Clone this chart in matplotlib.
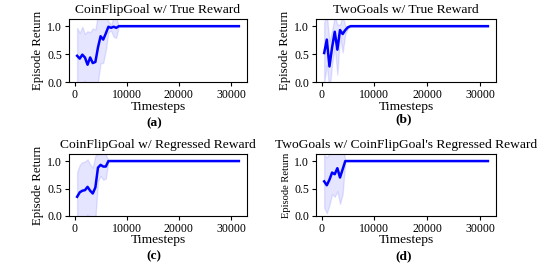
import numpy as np
import matplotlib
matplotlib.use("Agg")
import matplotlib.pyplot as plt

plt.rcParams['font.family'] = ['Liberation Serif', 'DejaVu Serif']
plt.rcParams['mathtext.fontset'] = 'stix'

# evaluation points (timesteps)
timesteps = np.arange(500, 31501, 500)
n = len(timesteps)

# mean return; flat at 1.0 after convergence
mean_a = [0.47, 0.42, 0.49, 0.44, 0.31, 0.44, 0.34, 0.36, 0.62, 0.82, 0.76, 0.87, 0.99, 0.97, 0.99, 0.97]
std_a = [0.50, 0.46, 0.50, 0.42, 0.60, 0.45, 0.62, 0.58, 0.60, 0.48, 0.42, 0.30, 0.10, 0.05, 0.18, 0.18]

mean_b = [0.52, 0.76, 0.28, 0.62, 0.90, 0.58, 0.93, 0.86, 0.93, 0.98]
std_b = [0.55, 0.45, 0.45, 0.30, 0.28, 0.45, 0.10, 0.33, 0.07, 0.02]

mean_c = [0.35, 0.43, 0.46, 0.47, 0.53, 0.46, 0.41, 0.52, 0.88, 0.93, 0.90, 0.90]
std_c = [0.45, 0.50, 0.52, 0.52, 0.50, 0.48, 0.47, 0.58, 0.25, 0.20, 0.24, 0.22]

mean_d = [0.63, 0.56, 0.66, 0.79, 0.76, 0.87, 0.70, 0.85]
std_d = [0.48, 0.51, 0.46, 0.39, 0.41, 0.42, 0.48, 0.45]

titles = ["CoinFlipGoal w/ True Reward", "TwoGoals w/ True Reward",
          "CoinFlipGoal w/ Regressed Reward", "TwoGoals w/ CoinFlipGoal's Regressed Reward"]
letters = ["(a)", "(b)", "(c)", "(d)"]


def pad(vals, fill):
    return np.array(list(vals) + [fill] * (n - len(vals)))


means = [pad(m, 1.0) for m in (mean_a, mean_b, mean_c, mean_d)]
stds = [pad(s, 0.0) for s in (std_a, std_b, std_c, std_d)]

fig = plt.figure(figsize=(5.5, 2.7), dpi=100)
rects = [[0.1255, 0.696, 0.3235, 0.234], [0.5745, 0.696, 0.3275, 0.234],
         [0.1255, 0.200, 0.3235, 0.230], [0.5745, 0.200, 0.3275, 0.230]]
letter_pos = [(0.28, 0.543), (0.733, 0.560), (0.28, 0.052), (0.733, 0.052)]

for i in range(4):
    ax = fig.add_axes(rects[i])
    m, s = means[i], stds[i]
    ax.fill_between(timesteps, m - s, m + s, color='blue', alpha=0.1)
    ax.plot(timesteps, m, color='blue', lw=1.8)
    ax.set_ylim(0, 1.13)
    ax.set_xticks([0, 10000, 20000, 30000])
    ax.set_yticks([0.0, 0.5, 1.0])
    ax.tick_params(labelsize=8.6, length=3, pad=2)
    ax.set_title(titles[i], fontsize=9.7, pad=4)
    ax.set_xlabel("Timesteps", fontsize=9.7, labelpad=-1 if i >= 2 else 0)
    ax.set_ylabel("Episode Return", fontsize=7.6 if i == 3 else 9.2, labelpad=2)
    fig.text(letter_pos[i][0], letter_pos[i][1], letters[i], fontsize=9.7,
             fontweight='bold', ha='center', va='center')

fig.savefig("out.png", dpi=100)
